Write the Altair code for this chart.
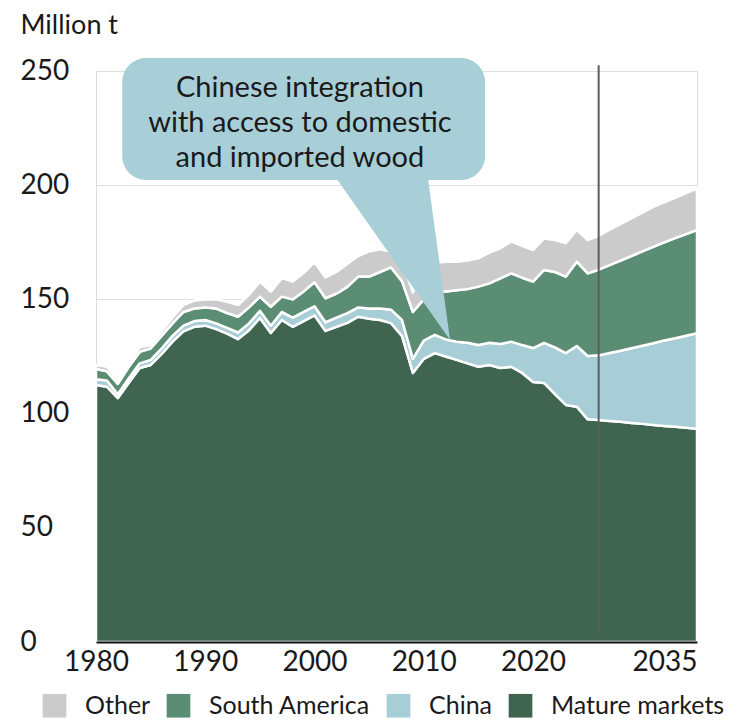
import altair as alt
import pandas as pd

years = list(range(1980, 2036))
mature = [112.5, 111.8, 106.8, 113.5, 120.0, 121.3, 126.0, 131.5, 136.0, 138.0,
          138.5, 137.0, 135.0, 132.6, 136.5, 141.9, 135.3, 141.0, 138.0, 140.5,
          143.0, 136.2, 138.0, 139.7, 142.4, 141.5, 141.0, 139.6, 134.0, 117.8,
          124.0, 126.5, 125.0, 123.5, 122.0, 120.5, 121.3, 120.0, 120.5, 117.8,
          113.8, 113.4, 108.5, 103.8, 103.0, 97.5, 97.2, 96.8, 96.4, 95.9,
          95.5, 95.0, 94.6, 94.2, 93.8, 93.4]
china = [2.5, 2.7, 1.7, 2.0, 2.0, 2.2, 2.5, 2.5, 2.5, 2.5,
         2.5, 2.5, 2.5, 2.9, 3.0, 3.1, 3.2, 3.5, 4.0, 4.0,
         4.0, 3.8, 4.0, 4.3, 4.1, 4.5, 5.0, 5.9, 7.0, 6.2,
         8.0, 8.0, 7.5, 8.0, 9.0, 9.5, 9.7, 10.5, 11.0, 12.2,
         14.9, 17.6, 20.5, 22.7, 26.6, 27.7, 28.3, 29.7, 31.1, 32.7,
         34.2, 35.8, 37.4, 38.8, 40.3, 41.8]
south_america = [4.5, 4.0, 4.5, 5.0, 5.0, 5.0, 5.5, 5.5, 6.0, 5.5,
                 5.5, 6.5, 6.5, 6.9, 7.0, 6.2, 8.3, 6.7, 8.0, 9.0,
                 10.5, 10.5, 10.5, 11.5, 13.5, 14.0, 16.0, 18.5, 17.0, 20.5,
                 18.0, 18.5, 21.0, 22.5, 23.5, 25.6, 26.0, 28.7, 29.9, 29.5,
                 29.1, 31.9, 33.0, 33.5, 36.9, 36.2, 37.5, 38.5, 39.5, 40.4,
                 41.3, 42.2, 43.0, 43.8, 44.5, 45.2]
other = [1.8, 2.0, 1.7, 2.0, 2.0, 1.5, 2.0, 2.5, 3.0, 3.5,
         3.5, 4.0, 5.0, 5.1, 5.5, 6.6, 6.6, 8.1, 7.8, 8.0,
         8.8, 9.1, 9.5, 10.0, 9.0, 11.0, 10.0, 7.0, 9.0, 8.5,
         12.0, 13.0, 13.0, 12.5, 12.5, 12.4, 13.5, 13.2, 13.9, 14.0,
         13.8, 13.8, 14.0, 14.6, 13.9, 14.6, 14.8, 15.5, 16.0, 16.5,
         17.0, 17.5, 17.5, 17.7, 17.9, 18.2]

series_names = ["Other", "South America", "China", "Mature markets"]
series_colors = ["#cbcbcb", "#5b8c74", "#a7ced6", "#3f6450"]
stack_rank = {"Mature markets": 0, "China": 1, "South America": 2, "Other": 3}

x_ticks = [1980, 1990, 2000, 2010, 2020, 2035]
y_ticks = [0, 50, 100, 150, 200, 250]

projection_start = [2026]
rule_range = [2.5, 252.5]

callout_lines = ["Chinese integration", "with access to domestic", "and imported wood"]
callout_color = "#a8cfd7"
callout_box = {"year": [1982.4], "year2": [2015.6], "value": [255.7], "value2": [202.3]}
callout_pointer = {"value": [202.3, 132.2], "year": [2002.1, 2012.4], "year2": [2010.4, 2012.4]}
callout_text_pos = {"year": [1998.66], "value": [242.6]}

FONT = "Lato"
TEXT = "#1a1a1a"

df = pd.DataFrame({"year": years, "Mature markets": mature, "China": china,
                   "South America": south_america, "Other": other})
long = df.melt("year", var_name="series", value_name="value")
long["rank"] = long["series"].map(stack_rank)

x_scale = alt.Scale(domain=[1980, 2035], nice=False, zero=False)
y_scale = alt.Scale(domain=[0, 250], nice=False)

areas = alt.Chart(long).mark_area(stroke="white", strokeWidth=2.5, strokeJoin="round").encode(
    x=alt.X("year:Q", scale=x_scale,
            axis=alt.Axis(values=x_ticks, format="d", title=None, grid=False,
                          domain=True, domainColor="#111111", domainWidth=2,
                          ticks=False, tickSize=0, labelPadding=6, labelFontSize=28,
                          labelColor=TEXT, labelFont=FONT, labelFlush=False,
                          labelOverlap=False,
                          labelAlign=alt.condition("datum.value == 2035", alt.value("right"), alt.value("center")),
                          zindex=1)),
    y=alt.Y("value:Q", stack="zero", scale=y_scale,
            axis=alt.Axis(values=y_ticks, title="Million t", titleAngle=0, titleAlign="left",
                          titleBaseline="middle", titleX=-76, titleY=-46, titleFontSize=27,
                          titleFontWeight="normal", titleColor=TEXT, titleFont=FONT,
                          labelAlign="left", labelPadding=76, tickSize=0, ticks=False,
                          domain=False, grid=True, gridColor="#e0e0e0", gridWidth=1.2,
                          labelFontSize=28, labelBaseline="middle", labelColor=TEXT,
                          labelFont=FONT)),
    color=alt.Color("series:N", scale=alt.Scale(domain=series_names, range=series_colors),
                    legend=alt.Legend(title=None, orient="none", legendX=-54, legendY=622,
                                      direction="horizontal", symbolType="square",
                                      symbolSize=560, symbolStrokeWidth=0, labelFontSize=25,
                                      labelOffset=18, columnPadding=15, labelColor=TEXT,
                                      labelFont=FONT, labelLimit=0)),
    order=alt.Order("rank:Q", sort="ascending"),
)

rule_df = pd.DataFrame({"year": projection_start, "value": [rule_range[0]], "value2": [rule_range[1]]})
rule = alt.Chart(rule_df).mark_rule(color="#5c5c5c", strokeWidth=2).encode(
    x=alt.X("year:Q", scale=x_scale), y=alt.Y("value:Q", scale=y_scale), y2="value2")

box = alt.Chart(pd.DataFrame(callout_box)).mark_rect(color=callout_color, cornerRadius=24).encode(
    x=alt.X("year:Q", scale=x_scale), x2="year2", y=alt.Y("value:Q", scale=y_scale), y2="value2")

pointer = alt.Chart(pd.DataFrame(callout_pointer)).mark_area(color=callout_color, orient="horizontal").encode(
    y=alt.Y("value:Q", scale=y_scale), x=alt.X("year:Q", scale=x_scale), x2="year2")

text = alt.Chart(pd.DataFrame(callout_text_pos)).mark_text(
    text=callout_lines, font=FONT, fontSize=29, lineHeight=35, color=TEXT,
    align="center", baseline="middle").encode(
    x=alt.X("year:Q", scale=x_scale), y=alt.Y("value:Q", scale=y_scale))

chart = alt.layer(areas, rule, pointer, box, text).properties(
    width=601, height=571,
    padding={"left": 12, "top": 3, "right": 0, "bottom": 0},
).configure_view(stroke=None).configure(font=FONT)

chart.save("out.html", embed_options={"renderer": "svg", "actions": False})
